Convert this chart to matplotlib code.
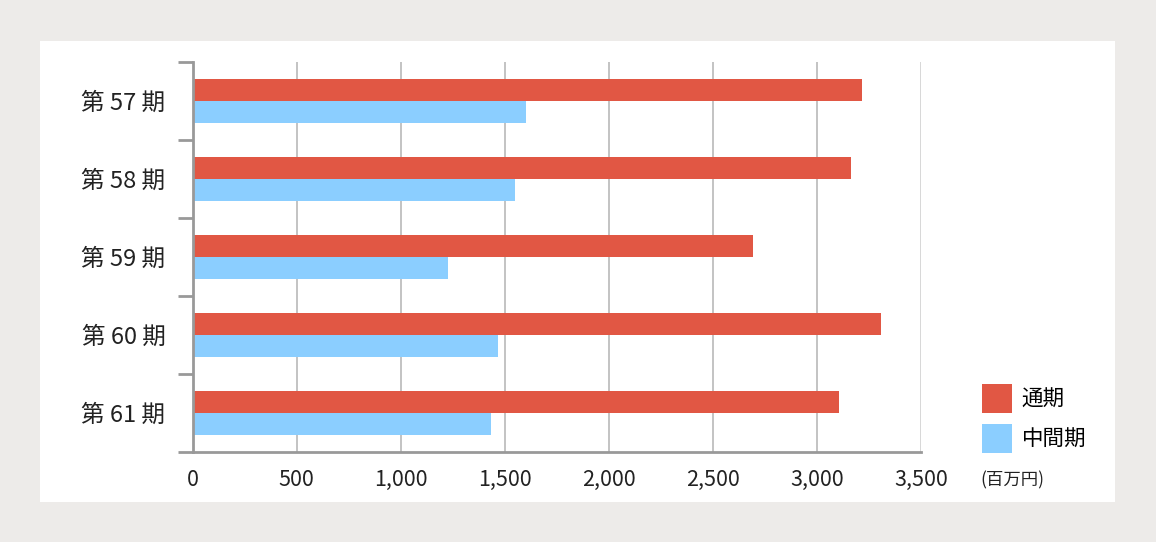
import matplotlib
matplotlib.use("Agg")
import matplotlib.pyplot as plt
from matplotlib.patches import Rectangle, Patch
import numpy as np

plt.rcParams['font.family'] = ['Noto Sans CJK JP', 'DejaVu Sans']

categories = ["第 57 期", "第 58 期", "第 59 期", "第 60 期", "第 61 期"]
full_year = [3215, 3160, 2690, 3305, 3105]
interim = [1603, 1546, 1229, 1469, 1431]
series_labels = ["通期", "中間期"]
x_ticks = [0, 500, 1000, 1500, 2000, 2500, 3000, 3500]
x_tick_labels = ["0", "500", "1,000", "1,500", "2,000", "2,500", "3,000", "3,500"]
unit_label = "(百万円)"

RED = "#e15744"
BLUE = "#8bceff"
AXIS = "#999999"

W, H = 1156, 542
fig = plt.figure(figsize=(W / 100, H / 100), dpi=100, facecolor="#edebe9")
fig.patches.append(Rectangle((40 / W, 1 - 502 / H), (1115 - 40) / W, (502 - 41) / H,
                             transform=fig.transFigure, facecolor="white",
                             edgecolor="none", zorder=-5))

ax = fig.add_axes([192.5 / W, 1 - 452 / H, (921.5 - 192.5) / W, (452 - 62) / H])
ax.set_zorder(2)
ax.set_facecolor("none")

y = np.arange(len(categories))
h = 22 / 78
ax.barh(y - h / 2, full_year, height=h, color=RED, zorder=3)
ax.barh(y + h / 2, interim, height=h, color=BLUE, zorder=3)

ax.set_xlim(0, 3500)
ax.set_ylim(len(categories) - 0.5, -0.5)

ax.set_xticks(x_ticks)
ax.set_xticklabels(x_tick_labels, fontsize=15.5, color="#222222")
ax.tick_params(axis="x", length=0, pad=12)
ax.set_xticks([0], minor=True)
ax.tick_params(axis="x", which="minor", length=10, width=2, color=AXIS)

ax.set_yticks(y)
ax.set_yticklabels(categories, fontsize=17, color="#222222")
ax.tick_params(axis="y", length=0, pad=19.5)
ax.set_yticks(np.arange(-0.5, len(categories)), minor=True)
ax.tick_params(axis="y", which="minor", length=11, width=2, color=AXIS)

for s in ["top", "right"]:
    ax.spines[s].set_visible(False)
for s in ["left", "bottom"]:
    ax.spines[s].set_color(AXIS)
    ax.spines[s].set_linewidth(2)
    ax.spines[s].set_zorder(4)

for xv in x_ticks[1:]:
    last = xv == x_ticks[-1]
    ax.axvline(xv, color="#d4d4d4" if last else "#b3b3b3", lw=2 if last else 1.1, zorder=1)

handles = [Patch(facecolor=RED, edgecolor="none"), Patch(facecolor=BLUE, edgecolor="none")]
leg = fig.legend(handles, series_labels, loc="upper left",
                 bbox_to_anchor=(982 / W, 1 - 384 / H), bbox_transform=fig.transFigure,
                 frameon=False, borderpad=0, borderaxespad=0, fontsize=15.5,
                 handlelength=1.4, handleheight=1.72, handletextpad=0.45, labelspacing=0.5)
leg.set_zorder(3)

fig.text(980 / W, 1 - 480 / H, unit_label, fontsize=12.5, va="center", ha="left", color="#222222")

fig.savefig("out.png", dpi=100, facecolor=fig.get_facecolor())
